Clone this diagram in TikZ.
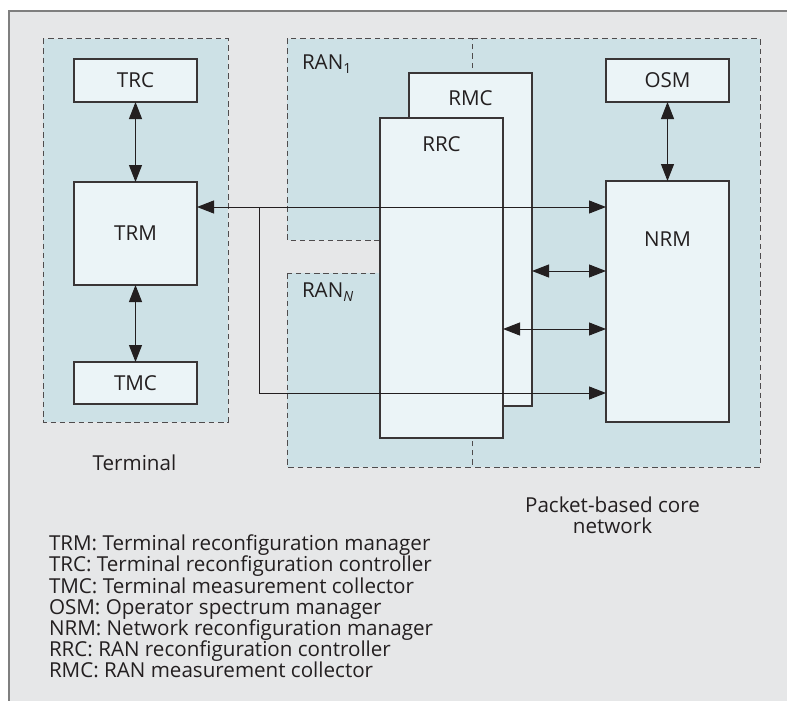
\documentclass[tikz,border=0pt]{standalone}
\usepackage{fontspec}
\setmainfont{Open Sans}
\usetikzlibrary{arrows.meta}
\definecolor{panelgray}{HTML}{E6E7E8}
\definecolor{zoneblue}{HTML}{CDE1E6}
\definecolor{boxfill}{HTML}{EBF4F7}
\definecolor{ink}{HTML}{231F20}
\definecolor{framegray}{HTML}{7F7F7F}
\begin{document}
\begin{tikzpicture}[x=1pt,y=-1pt,
  every node/.style={font=\fontsize{20.6}{21.2}\selectfont, text=ink, inner sep=0pt, outer sep=0pt},
  block/.style={draw=ink!90, line width=1.1pt, fill=boxfill, minimum width=123pt},
  zone/.style={draw=ink!80, line width=1pt, dash pattern=on 5.5pt off 3.8pt},
  link/.style={draw=ink, line width=1pt},
  tip/.style={-{Triangle[length=17pt,width=13pt]}},
  dbl/.style={{Triangle[length=17pt,width=13pt]}-{Triangle[length=17pt,width=13pt]}}
]
\useasboundingbox (0,0) rectangle (787,701);
\fill[white] (0,0) rectangle (787,701);
% grey panel with its frame
\fill[panelgray] (9,11) rectangle (800,712);
\draw[framegray, line width=1.6pt] (9,712) -- (9,11) -- (800,11);

% shaded domains
\fill[zoneblue] (43,39) rectangle (228,422);
\fill[zoneblue] (287,39) rectangle (472,240);
\fill[zoneblue] (287,273) rectangle (472,467);
\fill[zoneblue] (472,39) rectangle (760,467);
\draw[zone] (43,39) rectangle (228,422);
\draw[zone] (287,39) rectangle (472,240);
\draw[zone] (287,273) rectangle (472,467);
\draw[zone] (472,39) -- (760,39) -- (760,467) -- (472,467);

% terminal side
\node[block, minimum height=43pt] (trc) at (135.5,80.5) {TRC};
\node[block, minimum height=103pt] (trm) at (135.5,233.5) {TRM};
\node[block, minimum height=42pt] (tmc) at (135.5,383) {TMC};

% network side
\node[block, minimum height=43pt] (osm) at (667.5,80.5) {OSM};
\node[block, minimum height=241pt] (nrm) at (667.5,301.5) {};
\node[block, minimum height=333pt] (rmc) at (470.5,239.5) {};
\node[block, minimum height=320pt] (rrc) at (441.5,278) {};

% box titles
\node[anchor=base] (rmct) at (470.5,105) {RMC};
\node[anchor=base] (rrct) at (441.5,151) {RRC};
\node[anchor=base] (nrmt) at (667.5,246) {NRM};
\node[anchor=base west] (ran1) at (302,70) {RAN\raisebox{-4pt}{\fontsize{14}{14}\selectfont 1}};
\node[anchor=base west] (rann) at (302,297) {RAN\raisebox{-4pt}{\fontsize{14}{14}\selectfont\itshape N}};

% connectors
\coordinate (j1) at (259,207);
\coordinate (j2) at (259,393);
\coordinate (r1) at (0,271);
\coordinate (r2) at (0,329);
\draw[link,dbl] (trc) -- (trm);
\draw[link,dbl] (trm) -- (tmc);
\draw[link,dbl] (osm) -- (nrm);
\draw[link,dbl] (trm.east |- j1) -- (nrm.west |- j1);
\draw[link,tip] (j1) |- (nrm.west |- j2);
\draw[link,dbl] (rmc.east |- r1) -- (nrm.west |- r1);
\draw[link,dbl] (rrc.east |- r2) -- (nrm.west |- r2);

% domain captions
\node[anchor=base] (term) at (134.5,470) {Terminal};
\node[align=center] (core) at (612.5,515.5) {Packet-based core\\network};

% legend
\node[anchor=base west] (l1) at (49,550.7) {TRM: Terminal reconfiguration manager};
\node[anchor=base west] (l2) at (49,571.9) {TRC: Terminal reconfiguration controller};
\node[anchor=base west] (l3) at (49,593.1) {TMC: Terminal measurement collector};
\node[anchor=base west] (l4) at (49,614.3) {OSM: Operator spectrum manager};
\node[anchor=base west] (l5) at (49,635.5) {NRM: Network reconfiguration manager};
\node[anchor=base west] (l6) at (49,656.7) {RRC: RAN reconfiguration controller};
\node[anchor=base west] (l7) at (49,677.9) {RMC: RAN measurement collector};
\end{tikzpicture}
\end{document}
